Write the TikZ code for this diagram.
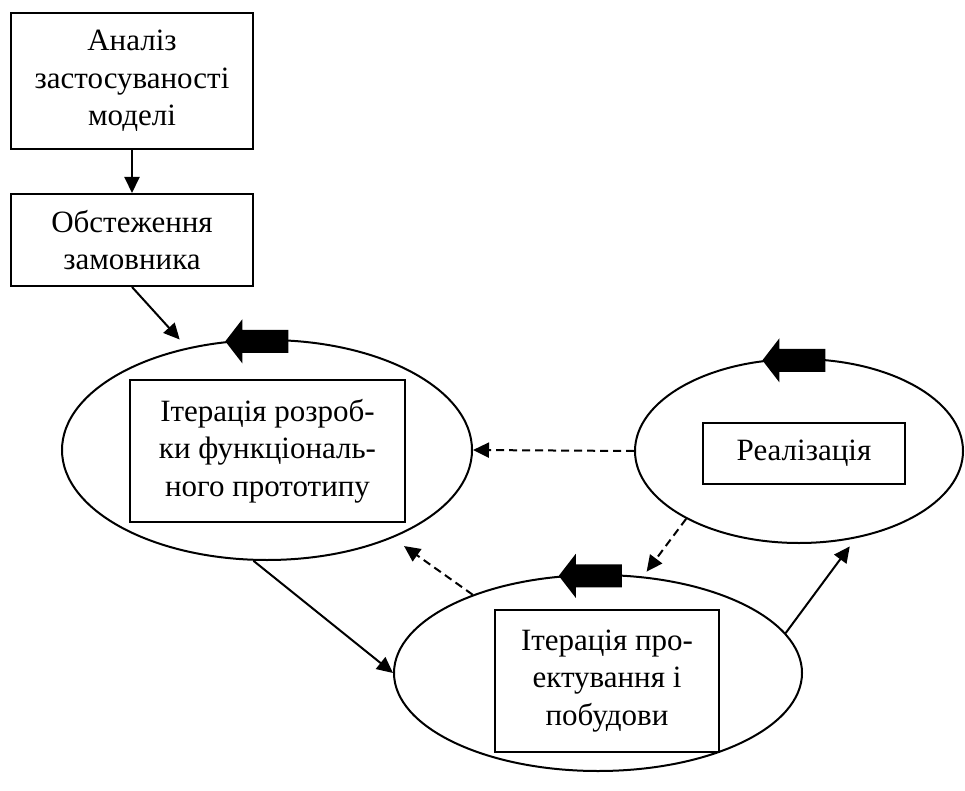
\documentclass[tikz,border=0pt]{standalone}
\usepackage{fontspec}
\setmainfont{Liberation Serif}
\usetikzlibrary{shapes.geometric,arrows.meta}
\tikzset{
  pics/fatarrow/.style={code={
    \fill (0,0) -- (17,-22) -- (17,-11.5) -- (63,-11.5) -- (63,11.5)
          -- (17,11.5) -- (17,22) -- cycle;}}
}
\begin{document}
\begin{tikzpicture}[x=1pt,y=-1pt,
  box/.style={draw,line width=2pt,align=center,inner sep=0pt,
              font=\fontsize{31}{37.5}\selectfont},
  ell/.style={draw,ellipse,line width=2pt,inner sep=0pt},
  link/.style={line width=2pt,-{Triangle[length=16pt,width=15pt]}},
  dlink/.style={link,dash pattern=on 8pt off 5pt}]
\useasboundingbox (0,0) rectangle (965,791);

% cycle of iterations
\node[ell,minimum width=410pt,minimum height=220pt] (e1) at (267,450) {};
\node[ell,minimum width=408pt,minimum height=196pt] (e2) at (598,673) {};
\node[ell,minimum width=328pt,minimum height=184pt] (e3) at (799,451) {};

% direction of each iteration
\pic at (e1.111.7) {fatarrow};
\pic at (e2.112) {fatarrow};
\pic at (e3.112) {fatarrow};

% stage boxes
\node[box,minimum width=242pt,minimum height=136pt] (b1) at (132,81)
  {Аналіз\\застосуваності\\моделі};
\node[box,minimum width=242pt,minimum height=92pt] (b2) at (132,240)
  {Обстеження\\замовника};
\node[box,minimum width=275pt,minimum height=142pt] (p1) at (267.5,451)
  {Ітерація розроб-\\ки функціональ-\\ного прототипу};
\node[box,minimum width=224pt,minimum height=142pt] (p2) at (607,681)
  {Ітерація про-\\ектування і\\побудови};
\node[box,minimum width=202pt,minimum height=61pt] (p3) at (804,453.5)
  {Реалізація};

% transitions
\draw[link] (b1.south) -- (b2.north);
\draw[link,shorten >=11pt] (b2.south) -- (e1.128.1);
\draw[link] (e1.263.8) -- (e2.west);
\draw[link,shorten >=10pt] (e2.12.6) -- (e3.303.6);
\draw[dlink] (e3.west) -- (e1.east);
\draw[dlink,shorten >=6pt] (e3.211.5) -- (e2.65.6);
\draw[dlink,shorten >=14pt] (e2.148.6) -- (e1.325.8);
\end{tikzpicture}
\end{document}
